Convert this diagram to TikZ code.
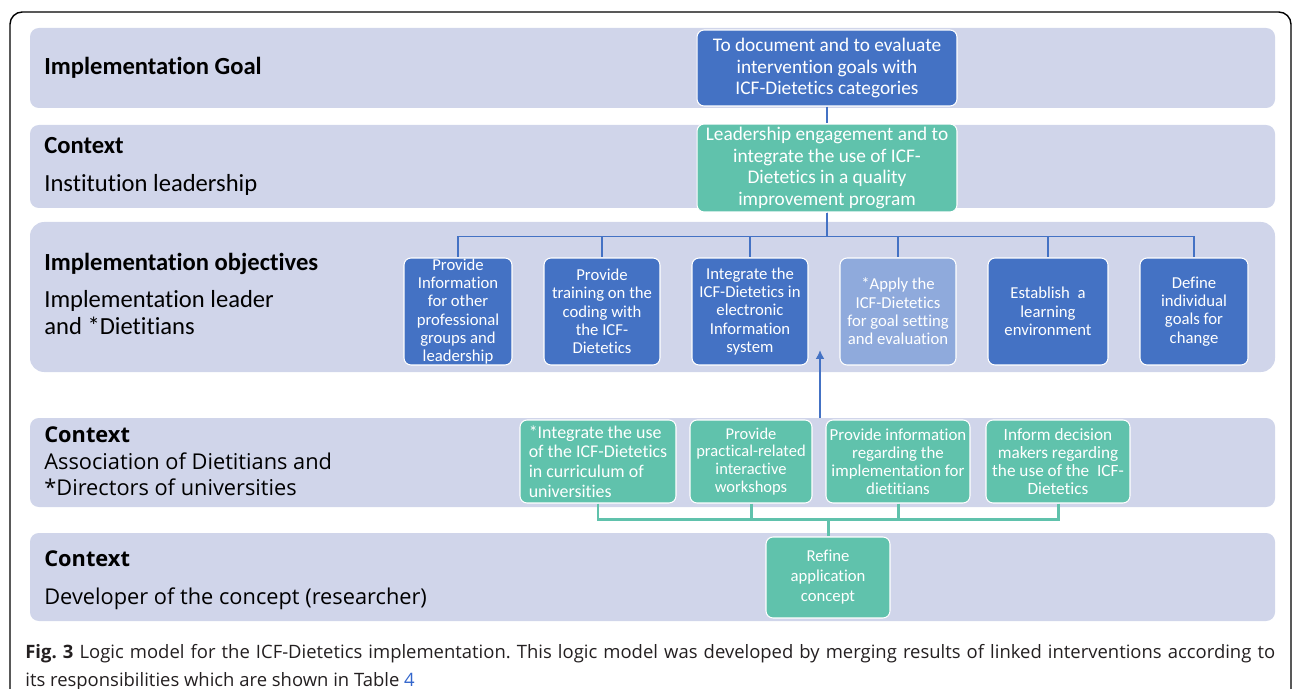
\documentclass[tikz,border=0pt]{standalone}
\usepackage{fontspec}
\setmainfont[Ligatures=NoCommon]{Carlito}
\newfontfamily\opensans{Open Sans}
\usetikzlibrary{arrows.meta}
\definecolor{band}{RGB}{208,213,234}
\definecolor{darkblue}{RGB}{68,114,196}
\definecolor{lightblue}{RGB}{143,170,220}
\definecolor{tealgreen}{RGB}{96,194,172}
\definecolor{linkblue}{RGB}{51,102,204}
\definecolor{captext}{RGB}{35,31,32}
\frenchspacing

\begin{document}
\begin{tikzpicture}[x=0.02cm,y=-0.02cm,
  box/.style={draw=white,line width=0.6pt,rounded corners=4pt,text=white,align=center,inner sep=0pt,font=\fontsize{9.5}{10.4}\selectfont},
  bluebox/.style={box,fill=darkblue},
  tealbox/.style={box,fill=tealgreen},
  lab/.style={anchor=base west,inner sep=0pt,font=\fontsize{14}{16}\selectfont},
  labo/.style={anchor=base west,inner sep=0pt,font=\opensans\fontsize{12.4}{14}\selectfont},
  bl/.style={darkblue,line width=0.8pt},
  tl/.style={tealgreen,line width=1.7pt}]

\useasboundingbox (0,0) rectangle (1292,689);
\clip (0,0) rectangle (1292,689);

% frame
\draw[line width=0.8pt,rounded corners=7pt] (10,720) -- (10,12) -- (1291,12) -- (1291,720);

% bands
\fill[band,rounded corners=5pt] (30,28) rectangle (1275,108);
\fill[band,rounded corners=5pt] (30,125) rectangle (1275,208);
\fill[band,rounded corners=8pt] (30,222) rectangle (1275,372);
\fill[band,rounded corners=5pt] (30,418) rectangle (1275,507);
\fill[band,rounded corners=5pt] (30,533) rectangle (1275,621);

\node[lab] (l1) at (44,75) {\textbf{Implementation Goal}};
\node[lab] (l2) at (44,154) {\textbf{Context}};
\node[lab] (l2b) at (44,192) {Institution leadership};
\node[lab] (l3) at (44,271) {\textbf{Implementation objectives}};
\node[lab] (l3b) at (44,308) {Implementation leader};
\node[lab] (l3c) at (44,335) {and *Dietitians};
\node[labo] (l4) at (44,442) {\textbf{Context}};
\node[labo] (l4b) at (44,469) {Association of Dietitians and};
\node[labo] (l4c) at (44,495) {*Directors of universities};
\node[labo] (l5) at (44,566) {\textbf{Context}};
\node[labo] (l5b) at (44,604) {Developer of the concept (researcher)};

% goal and leadership
\node[bluebox,minimum width=5.2cm,minimum height=1.52cm,font=\fontsize{11}{12.2}\selectfont] (goal) at (827,68)
  {To document and to evaluate\\intervention goals with\\ICF-Dietetics categories};
\node[tealbox,minimum width=5.2cm,minimum height=1.76cm,font=\fontsize{11}{12.2}\selectfont] (lead) at (827,168)
  {Leadership engagement and to\\integrate the use of ICF-\\Dietetics in a quality\\improvement program};

% objectives
\node[bluebox,minimum width=2.16cm,minimum height=2.14cm] (o1) at (458,311.5)
  {Provide\\Information\\for other\\professional\\groups and\\leadership};
\node[bluebox,minimum width=2.32cm,minimum height=2.14cm] (o2) at (602,311.5)
  {Provide\\training on the\\coding with\\the ICF-\\Dietetics};
\node[bluebox,minimum width=2.32cm,minimum height=2.14cm] (o3) at (750,311.5)
  {Integrate the\\ICF-Dietetics in\\electronic\\Information\\system};
\node[box,fill=lightblue,minimum width=2.32cm,minimum height=2.14cm] (o4) at (898,311.5)
  {*Apply the\\ICF-Dietetics\\for goal setting\\and evaluation};
\node[bluebox,minimum width=2.4cm,minimum height=2.14cm] (o5) at (1048,311.5)
  {Establish\ \ a\\learning\\environment};
\node[bluebox,minimum width=2.16cm,minimum height=2.14cm] (o6) at (1194,311.5)
  {Define\\individual\\goals for\\change};

% context boxes
\node[tealbox,minimum width=3.12cm,minimum height=1.66cm,align=left,font=\fontsize{10.2}{11.2}\selectfont] (c1) at (598,461.5)
  {*Integrate the use\\of the ICF-Dietetics\\in curriculum of\\universities};
\node[tealbox,minimum width=2.44cm,minimum height=1.66cm,font=\fontsize{9.4}{10.2}\selectfont] (c2) at (751,461.5)
  {Provide\\practical-related\\interactive\\workshops};
\node[tealbox,minimum width=2.88cm,minimum height=1.66cm,font=\fontsize{9.6}{10.2}\selectfont] (c3) at (898,461.5)
  {Provide information\\regarding the\\implementation for\\dietitians};
\node[tealbox,minimum width=2.88cm,minimum height=1.66cm,font=\fontsize{9.8}{10.3}\selectfont] (c4) at (1058,461.5)
  {Inform decision\\makers regarding\\the use of the\ \ ICF-\\Dietetics};

\node[tealbox,minimum width=2.48cm,minimum height=1.62cm,font=\fontsize{9.5}{11.4}\selectfont] (refine) at (828,577.5)
  {Refine\\application\\concept};

% connectors
\draw[bl] (goal) -- (lead);
\foreach \n in {o1,o2,o3,o4,o5,o6}
  \draw[bl] (lead.south) -- ++(0,24) -| (\n.north);

\coordinate (up0) at (820,418);
\coordinate (up1) at (820,350);
\draw[darkblue,line width=1.5pt,-{Latex[length=1.8mm,width=1.8mm]}] (up0) -- (up1);

\foreach \n in {c1,c2,c3,c4}
  \draw[tl] (\n.south) -- ++(0,16) -| (refine.north);

% caption
\node[anchor=north west,inner sep=0pt,text width=25cm,align=justify,text=captext,
  font=\opensans\fontsize{10.5}{15.9}\selectfont] (cap) at (25,644)
  {\textbf{Fig.~3} Logic model for the ICF-Dietetics implementation. This logic model was developed by merging results of linked interventions according to\linebreak
   its responsibilities which are shown in Table \textcolor{linkblue}{4}};
\end{tikzpicture}
\end{document}
